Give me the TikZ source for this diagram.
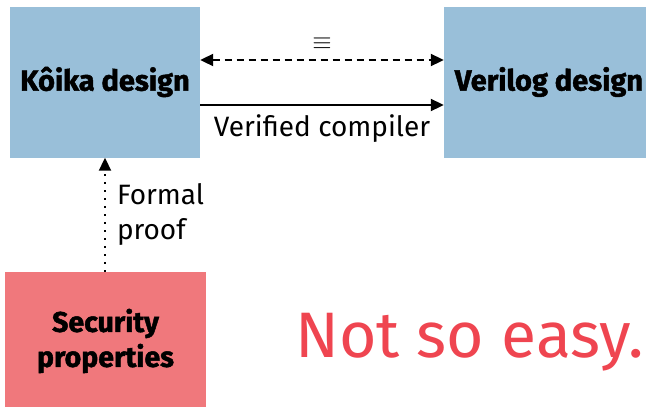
\documentclass[tikz,border=0pt]{standalone}
\usepackage{fontspec}
\setmainfont{Fira Sans}[BoldFeatures={FakeBold=1.6}]
\usepackage{tikz}
\usetikzlibrary{positioning,arrows.meta,calc}
\definecolor{designblue}{HTML}{99BFD9}
\definecolor{proppink}{HTML}{F0787C}
\definecolor{easyred}{HTML}{EF4550}
\tikzset{
  design/.style={rectangle, fill=designblue, minimum height=151pt, inner sep=0pt, align=center, font=\fontsize{29}{29}\selectfont\bfseries},
  prop/.style={rectangle, fill=proppink, inner sep=0pt, align=center, font=\fontsize{28.5}{35}\selectfont\bfseries},
  lbl/.style={font=\fontsize{28}{35}\selectfont, align=left, inner sep=2pt},
  comp/.style={-{Triangle[length=13pt,width=12pt]}, line width=2pt},
  eqv/.style={{Triangle[length=13pt,width=12pt]}-{Triangle[length=13pt,width=12pt]}, line width=2pt, dash pattern=on 7pt off 5pt},
  prf/.style={-{Triangle[length=13pt,width=12pt]}, line width=2pt, dash pattern=on 2pt off 6pt}
}
\begin{document}
\begin{tikzpicture}[x=1pt, y=-1pt]
\clip (0,0) rectangle (646,407);
\node[design, minimum width=190pt] (koika) at (105,82) {Kôika design};
\node[design, minimum width=210pt] (verilog) at (549,82) {Verilog design};
\node[prop, minimum width=201pt, minimum height=138pt] (secprop) at (105.5,341) {Security\\properties};
\draw[eqv] ([yshift=22pt]koika.east) -- node[midway, above=6pt, font=\fontsize{26}{30}\selectfont] (eq) {$\equiv$} ([yshift=22pt]verilog.west);
\draw[comp] ([yshift=-23pt]koika.east) -- node[midway, below=7pt, lbl] (vc) {Verified compiler} ([yshift=-23pt]verilog.west);
\draw[prf] (secprop.north -| koika.south) -- node[midway, right=9pt, lbl] (fp) {Formal\\proof} (koika.south);
\node[anchor=base west, inner sep=0pt, text=easyred, font=\fontsize{64.3}{70}\selectfont] (easy) at (295,357) {Not so easy.};
\end{tikzpicture}
\end{document}
